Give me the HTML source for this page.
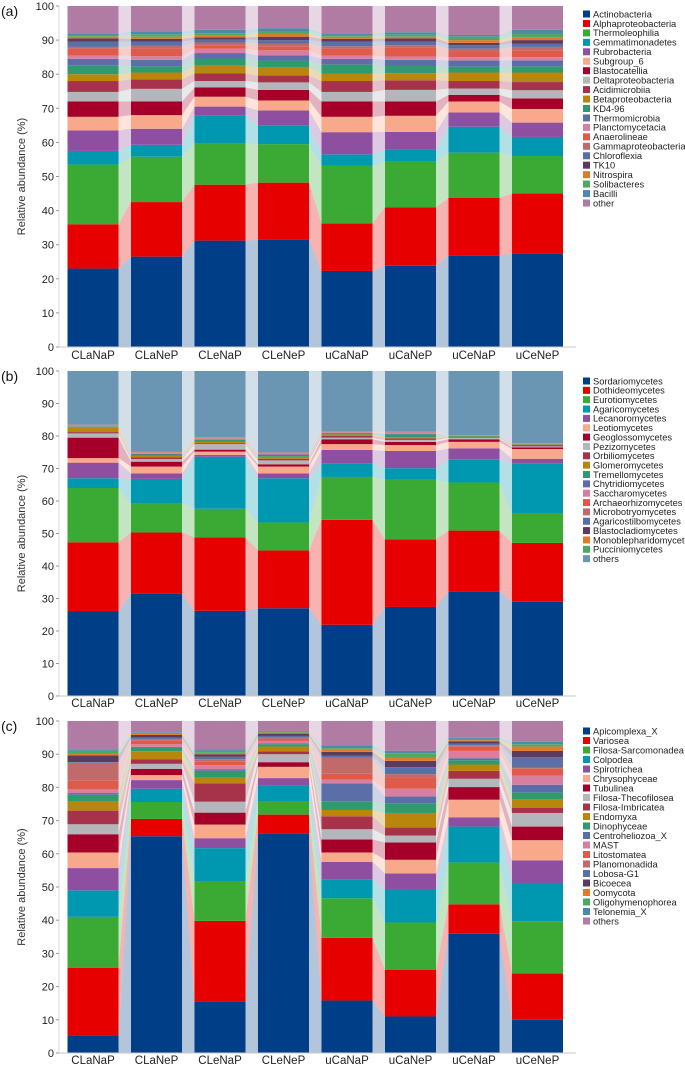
<!DOCTYPE html>
<html><head><meta charset="utf-8"><style>
html,body{margin:0;padding:0;background:#fff;}
svg{display:block;font-family:"Liberation Sans",sans-serif;}
</style></head><body>
<svg id="chart" width="685" height="1066" viewBox="0 0 685 1066" xmlns="http://www.w3.org/2000/svg"></svg>
<script>
const samples = ["CLaNaP","CLaNeP","CLeNaP","CLeNeP","uCaNaP","uCaNeP","uCeNaP","uCeNeP"];
const yTicks = [0,10,20,30,40,50,60,70,80,90,100];

const taxaA = ["Actinobacteria","Alphaproteobacteria","Thermoleophilia","Gemmatimonadetes","Rubrobacteria","Subgroup_6","Blastocatellia","Deltaproteobacteria","Acidimicrobiia","Betaproteobacteria","KD4-96","Thermomicrobia","Planctomycetacia","Anaerolineae","Gammaproteobacteria","Chloroflexia","TK10","Nitrospira","Solibacteres","Bacilli","other"];
const colorsA = ["#003f87","#e60000","#3aaa35","#0098b0","#8e4fa0","#f9a98b","#a6002a","#b3b7bb","#a6334a","#b8860b","#2e9a6e","#5c6ea8","#d87fa0","#e05a4a","#c06a6a","#5a6fa5","#5e3a5e","#e07a2a","#4caa60","#4d8aaa","#b07ca4"];
const valuesA = [
 [23,13,17.5,4,6,4,4.5,2.8,3.2,2,2.5,2,1,2,0.5,1.5,1,0.5,0.5,0.5,8],
 [26.5,16,13.3,3.5,4.7,4,4,3.7,2.8,2,1.8,1.9,1.1,2.2,0.8,1.2,0.9,0.6,0.7,0.8,7.5],
 [31.2,16.4,12.1,8.3,2.5,2.9,2.7,1.9,2.2,2.3,2.1,1.6,1.3,1,0.8,0.8,0.7,0.5,0.7,1,7],
 [31.4,16.8,11.3,5.5,4.4,2.9,3.1,2.2,2,2.4,2,1.5,1.5,1.2,0.8,1,1,0.8,0.7,1,6.5],
 [22.3,13.9,16.9,3.4,6.5,4.5,4.5,2.8,3.2,2.2,2.6,1.7,1,2,0.7,1.4,0.8,0.6,0.5,0.5,8],
 [23.8,17.2,13.3,3.5,5.3,4.7,4.2,3.4,2.8,2.1,2.1,1.8,1,2.6,0.7,1.1,0.9,0.5,0.6,0.7,7.7],
 [26.9,16.8,13.3,7.6,4.2,3.2,1.9,1.9,2.2,2.5,1.7,1.8,1,1.5,1,1,0.7,0.8,1,0.5,8.5],
 [27.3,17.7,11,5.6,4.2,4,3.1,2.4,2.4,2.8,1.8,1.7,1,2,1,1,1,0.8,1,1.2,7]
];

const taxaB = ["Sordariomycetes","Dothideomycetes","Eurotiomycetes","Agaricomycetes","Lecanoromycetes","Leotiomycetes","Geoglossomycetes","Pezizomycetes","Orbiliomycetes","Glomeromycetes","Tremellomycetes","Chytridiomycetes","Saccharomycetes","Archaeorhizomycetes","Microbotryomycetes","Agaricostilbomycetes","Blastocladiomycetes","Monoblepharidomycetes","Pucciniomycetes","others"];
const colorsB = ["#003f87","#e60000","#3aaa35","#0098b0","#8e4fa0","#f9a98b","#a6002a","#b3b7bb","#a6334a","#b8860b","#2e9a6e","#5c6ea8","#d87fa0","#e05a4a","#c06a6a","#5a6fa5","#5e3a5e","#e07a2a","#4caa60","#6a96b4"];
const valuesB = [
 [26,21.3,16.7,3,4.8,1.4,6.3,1.3,0.4,1.5,0.2,0.1,0.3,0.1,0.1,0,0,0,0,16.5],
 [31.5,18.8,8.9,7.6,1.7,2.1,1.5,0.8,0.5,0.6,0.3,0.2,0.4,0.1,0.1,0,0.1,0,0.1,24.7],
 [26.2,22.6,8.8,16,0.6,1,0.6,1.7,0.3,0.5,0.5,0.2,0.3,0.1,0.1,0,0,0,0.1,20.4],
 [27,17.8,8.6,13.6,1.5,2.1,0.7,1.2,0.5,0.6,0.4,0.3,0.4,0.1,0.1,0,0.1,0,0,25],
 [21.9,32.3,13.2,4.2,4.1,1.8,1.5,0.5,0.5,0.5,0.3,0.2,0.2,0.1,0,0,0,0,0.1,18.6],
 [27.4,20.8,18.3,3.6,5.3,1.8,1,0.6,0.5,0.3,0.9,0.2,0.4,0.1,0,0,0,0,0.1,18.7],
 [32.2,18.7,14.8,7,3.5,2,0.8,0.4,0.2,0.2,0.2,0.1,0.1,0,0,0,0,0,0.1,19.7],
 [29,18.1,9.2,15.3,1.4,3,0.5,0.3,0.4,0.2,0.1,0.1,0.1,0,0,0,0,0,0.1,22.2]
];

const taxaC = ["Apicomplexa_X","Variosea","Filosa-Sarcomonadea","Colpodea","Spirotrichea","Chrysophyceae","Tubulinea","Filosa-Thecofilosea","Filosa-Imbricatea","Endomyxa","Dinophyceae","Centroheliozoa_X","MAST","Litostomatea","Planomonadida","Lobosa-G1","Bicoecea","Oomycota","Oligohymenophorea","Telonemia_X","others"];
const colorsC = ["#003f87","#e60000","#3aaa35","#0098b0","#8e4fa0","#f9a98b","#a6002a","#b3b7bb","#a6334a","#b8860b","#2e9a6e","#5c6ea8","#d87fa0","#e05a4a","#c06a6a","#5a6fa5","#5e3a5e","#e07a2a","#4caa60","#4d8aaa","#b07ca4"];
const valuesC = [
 [5.3,20.4,15.3,8,6.7,4.7,5.5,3,4.1,2.7,2.1,0.5,1.1,2.6,5.4,0.2,2,0.6,0.8,0.5,8.5],
 [65.3,5.2,5.1,4,2.6,1.5,1.9,1.5,1.3,2.5,1,0.3,0.8,1.2,0.4,0.4,0.8,0.3,0.3,0.2,3.4],
 [15.6,24.2,12,9.9,3,4.1,3.6,3.3,5.5,1.8,2,0.5,1.2,1,0.8,0.7,0.8,0.4,0.6,0.4,8.6],
 [66.2,5.6,4.1,4.7,2.2,3.4,1.4,2.4,0.8,1.5,0.7,0.3,0.7,0.6,0.4,0.5,0.7,0.3,0.3,0.2,3],
 [15.8,18.9,11.9,5.6,5.4,2.8,3.9,3.1,3.9,1.9,2.6,5.4,1.1,1.8,4.8,0.7,1.1,0.6,0.5,0.8,7.4],
 [11,14,14.3,10.1,4.7,4.1,5.2,2.1,2.4,4.4,2.9,2.1,2.3,3.4,1,2.1,1.9,1,1.3,0.7,9],
 [35.9,8.9,12.6,10.8,2.8,5.3,3.8,2.5,2.4,1.9,1.3,0.6,2.2,1.2,0.5,0.5,0.7,0.3,0.4,0.3,5.1],
 [10,14,15.7,11.5,6.8,6.1,4.1,4.1,1.5,2.6,2.1,2.3,2.7,2.1,0.4,3.1,1.9,1.3,0.7,0.7,6.3]
];

const NS = "http://www.w3.org/2000/svg";
const svg = document.getElementById("chart");
function mk(tag, attrs, parent){
  const e = document.createElementNS(NS, tag);
  for (const k in attrs) e.setAttribute(k, attrs[k]);
  (parent||svg).appendChild(e);
  return e;
}

const panels = [
  {id:"a", label:"(a)", taxa:taxaA, colors:colorsA, values:valuesA, top:6, bottom:347, legY:14, legStep:9.45, xlabY:359},
  {id:"b", label:"(b)", taxa:taxaB, colors:colorsB, values:valuesB, top:371, bottom:696, legY:381, legStep:9.35, xlabY:707},
  {id:"c", label:"(c)", taxa:taxaC, colors:colorsC, values:valuesC, top:721, bottom:1053, legY:731, legStep:9.5, xlabY:1064}
];

const barX0 = 67.5, barStep = 63.5, barW = 51;
function xPos(i){ return barX0 + i*barStep; }

panels.forEach(p => {
  const g = mk("g", {});
  
  
  const y = v => p.bottom - (v/100)*(p.bottom - p.top);

  const stacks = p.values.map(row => { let c=0; return row.map(v => { const s=c; c+=v; return [s,c]; }); });

  const rg = mk("g", {}, g);
  
  
  for (let i=0;i<samples.length-1;i++){
    p.taxa.forEach((t,k) => {
      const a = stacks[i][k], b = stacks[i+1][k];
      const x1 = xPos(i)+barW, x2 = xPos(i+1);
      const poly = mk("polygon", {
        points: `${x1},${y(a[1])} ${x2},${y(b[1])} ${x2},${y(b[0])} ${x1},${y(a[0])}`,
        fill: p.colors[k], "fill-opacity": 0.3
      }, rg);
      
      
    });
  }

  samples.forEach((s,i) => {
    const bg = mk("g", {}, g);
    
    
    p.taxa.forEach((t,k) => {
      const [a,b] = stacks[i][k];
      const r = mk("rect", {x:xPos(i), y:y(b), width:barW, height:Math.max(0,y(a)-y(b)), fill:p.colors[k]}, bg);
      
      
    });
    const tl = mk("text", {x:xPos(i)+barW/2, y:p.xlabY, "text-anchor":"middle", "font-size":"11.5", fill:"#222"}, g);
    tl.textContent = s;
    
    
  });

  const ax = mk("line", {x1:59, y1:p.bottom, x2:576, y2:p.bottom, stroke:"#c8c8c8", "stroke-width":1}, g);
  
  
  const ay = mk("line", {x1:59, y1:p.top, x2:59, y2:p.bottom, stroke:"#d8d8d8", "stroke-width":1}, g);
  
  
  yTicks.forEach(v => {
    const tk = mk("line", {x1:56, y1:y(v), x2:59, y2:y(v), stroke:"#999"}, g);
    
    
    const tt = mk("text", {x:54, y:y(v)+4, "text-anchor":"end", "font-size":"11", fill:"#222"}, g);
    tt.textContent = v;
    
    
  });
  const cy = (p.top+p.bottom)/2;
  const yt = mk("text", {x:0, y:0, transform:`translate(25,${cy}) rotate(-90)`, "text-anchor":"middle", "font-size":"11", fill:"#333"}, g);
  yt.textContent = "Relative abundance (%)";
  
  
  const pl = mk("text", {x:1, y:p.top+10, "font-size":"14", fill:"#111"}, g);
  pl.textContent = p.label;
  
  

  const lg = mk("g", {}, g);
  
  
  p.taxa.forEach((t,k) => {
    const ly = p.legY + k*p.legStep;
    const sw = mk("rect", {x:583, y:ly-3.5, width:7, height:7, fill:p.colors[k]}, lg);
    
    
    const lt = mk("text", {x:593, y:ly+3.3, "font-size":"9.3", fill:"#222"}, lg);
    lt.textContent = t;
    
    
  });
});
</script>
</body></html>
